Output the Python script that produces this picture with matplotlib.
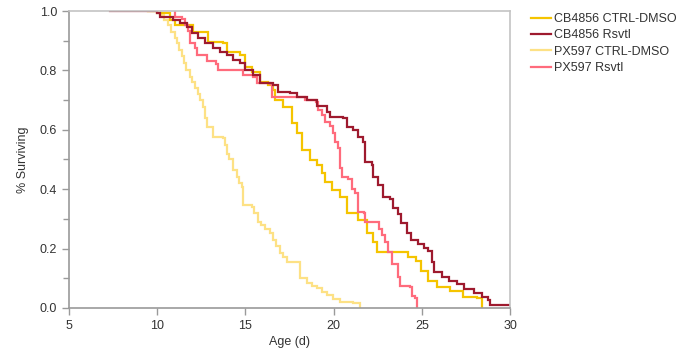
import matplotlib
matplotlib.use("Agg")
import matplotlib.pyplot as plt
from matplotlib.ticker import MultipleLocator

# survival curves (time of step in days, fraction surviving after it)
cb_ctrl_t = [9.5, 9.99, 10.73, 11.01, 11.86, 12.03, 12.6, 12.88, 13.73, 13.96, 14.69, 14.98,
             15.37, 15.83, 16.28, 16.56, 16.68, 17.13, 17.64, 17.93, 18.21, 18.66, 19.06,
             19.34, 19.51, 19.91, 20.36, 20.76, 21.38, 21.89, 22.23, 22.46, 24.22, 24.67,
             24.95, 25.35, 25.86, 26.6, 27.34, 28.13, 28.41, 28.43]
cb_ctrl_s = [1.0, 0.993, 0.97, 0.953, 0.953, 0.929, 0.929, 0.896, 0.892, 0.862, 0.852, 0.811,
             0.795, 0.761, 0.751, 0.734, 0.70, 0.677, 0.623, 0.589, 0.532, 0.498, 0.481,
             0.455, 0.424, 0.397, 0.374, 0.32, 0.296, 0.253, 0.222, 0.189, 0.172, 0.158,
             0.125, 0.091, 0.071, 0.057, 0.037, 0.034, 0.017, 0.0]

cb_rsv_t = [7.32, 9.99, 10.16, 10.9, 11.29, 11.69, 11.97, 12.31, 12.71, 13.16, 13.56, 13.96,
            14.3, 14.69, 14.98, 15.43, 15.83, 16.56, 16.85, 17.53, 17.93, 18.49, 19.06, 19.63,
            19.8, 20.53, 20.76, 21.1, 21.38, 21.67, 21.78, 22.18, 22.23, 22.52, 22.8, 23.2,
            23.37, 23.65, 23.82, 24.16, 24.39, 24.78, 25.12, 25.35, 25.58, 25.69, 26.15,
            26.54, 27.0, 27.39, 27.96, 28.41, 28.75, 28.87, 30.0]
cb_rsv_s = [1.0, 0.993, 0.98, 0.97, 0.96, 0.946, 0.926, 0.909, 0.892, 0.875, 0.862, 0.852,
            0.835, 0.825, 0.801, 0.785, 0.758, 0.751, 0.727, 0.724, 0.71, 0.70, 0.68, 0.66,
            0.643, 0.64, 0.609, 0.60, 0.576, 0.559, 0.492, 0.481, 0.441, 0.414, 0.374, 0.367,
            0.337, 0.316, 0.286, 0.253, 0.229, 0.215, 0.202, 0.192, 0.155, 0.121, 0.104,
            0.091, 0.081, 0.064, 0.05, 0.037, 0.027, 0.01, 0.01]

px_ctrl_t = [9.48, 10.16, 10.4, 10.6, 10.8, 11.0, 11.12, 11.25, 11.4, 11.5, 11.65, 11.86,
             12.0, 12.15, 12.3, 12.45, 12.6, 12.7, 12.82, 13.16, 13.73, 13.85, 13.96, 14.1,
             14.3, 14.5, 14.65, 14.81, 14.86, 15.37, 15.5, 15.71, 15.9, 16.1, 16.39, 16.55,
             16.75, 16.96, 17.15, 17.36, 18.1, 18.5, 18.8, 19.06, 19.35, 19.63, 19.97,
             20.36, 21.1, 21.5]
px_ctrl_s = [1.0, 0.987, 0.97, 0.953, 0.93, 0.91, 0.892, 0.87, 0.85, 0.825, 0.80, 0.778,
             0.76, 0.74, 0.72, 0.70, 0.677, 0.64, 0.609, 0.576, 0.572, 0.55, 0.52, 0.50,
             0.465, 0.44, 0.42, 0.407, 0.347, 0.34, 0.32, 0.29, 0.28, 0.265, 0.253, 0.23,
             0.21, 0.185, 0.17, 0.155, 0.10, 0.084, 0.075, 0.067, 0.055, 0.044, 0.03,
             0.02, 0.017, 0.0]

px_rsv_t = [11.01, 11.02, 11.41, 11.58, 11.75, 11.86, 12.14, 12.26, 12.82, 13.33, 13.45, 14.86,
            15.43, 15.66, 16.39, 16.51, 18.38, 19.0, 19.12, 19.34, 19.51, 19.8, 19.97, 20.08,
            20.25, 20.36, 20.48, 20.82, 21.04, 21.21, 21.38, 21.72, 21.78, 22.57, 22.74,
            22.91, 23.08, 23.31, 23.65, 23.76, 24.33, 24.44, 24.61, 24.73]
px_rsv_s = [1.0, 0.98, 0.973, 0.953, 0.933, 0.892, 0.875, 0.852, 0.832, 0.822, 0.801, 0.785,
            0.778, 0.758, 0.754, 0.71, 0.70, 0.694, 0.667, 0.65, 0.626, 0.613, 0.589, 0.559,
            0.539, 0.471, 0.441, 0.434, 0.40, 0.387, 0.323, 0.32, 0.29, 0.266, 0.246,
            0.222, 0.189, 0.148, 0.104, 0.074, 0.071, 0.04, 0.034, 0.0]

labels = ["CB4856 CTRL-DMSO", "CB4856 Rsvtl", "PX597 CTRL-DMSO", "PX597 Rsvtl"]
colors = ["#F5C400", "#9E1A2E", "#FDE185", "#FF6B7C"]

plt.rcParams["font.family"] = ["Liberation Sans", "DejaVu Sans"]

fig = plt.figure(figsize=(6.82, 3.56), dpi=100)
ax = fig.add_axes([0.101, 0.135, 0.647, 0.834])

series = [(px_ctrl_t, px_ctrl_s), (cb_ctrl_t, cb_ctrl_s), (px_rsv_t, px_rsv_s), (cb_rsv_t, cb_rsv_s)]
order = [2, 0, 3, 1]
handles = {}
for (t, s), i in zip(series, order):
    h, = ax.plot(t, s, drawstyle="steps-post", color=colors[i], lw=1.6,
                 solid_joinstyle="miter", label=labels[i])
    handles[i] = h

ax.set_xlim(5, 30)
ax.set_ylim(0, 1.0)
ax.xaxis.set_major_locator(MultipleLocator(5))
ax.yaxis.set_minor_locator(MultipleLocator(0.1))
ax.set_yticks([0.0, 0.2, 0.4, 0.6, 0.8, 1.0])
ax.set_yticklabels(["0.0", "0.2", "0.4", "0.6", "0.8", "1.0"])

for side in ["left", "bottom"]:
    ax.spines[side].set_color("#9a9a9a")
    ax.spines[side].set_linewidth(1.2)
for side in ["top", "right"]:
    ax.spines[side].set_color("#c4c4c4")
    ax.spines[side].set_linewidth(1.2)

ax.tick_params(which="both", direction="out", color="#9a9a9a", width=1.0,
               labelsize=9, labelcolor="#333333")
ax.tick_params(which="major", length=5)
ax.tick_params(which="minor", length=4)

ax.set_xlabel("Age (d)", fontsize=9, color="#333333", labelpad=3)
ax.set_ylabel("% Surviving", fontsize=9, color="#333333", labelpad=8)

ax.legend([handles[i] for i in range(4)], labels, loc="upper left",
          bbox_to_anchor=(1.035, 1.01), frameon=False, fontsize=9,
          handlelength=1.6, handletextpad=0.3, labelspacing=0.35,
          borderaxespad=0, labelcolor="#333333")

fig.savefig("out.png", dpi=100)
